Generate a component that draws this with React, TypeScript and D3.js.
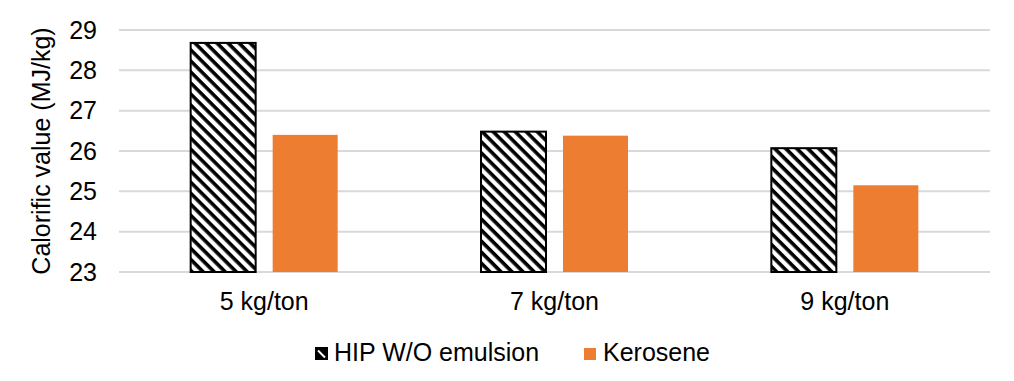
import React from "react";
import * as d3 from "d3";

const categories = ["5 kg/ton", "7 kg/ton", "9 kg/ton"];
const seriesNames = ["HIP W/O emulsion", "Kerosene"];
const hipValues = [28.68, 26.48, 26.07];
const keroseneValues = [26.4, 26.38, 25.15];
const yTicks = [23, 24, 25, 26, 27, 28, 29];

export default function App() {
  const W = 1014, H = 381;
  const left = 119, right = 990, top = 30, bottom = 272;
  const x = d3.scaleBand<string>().domain(categories).range([left, right]).paddingInner(0).paddingOuter(0);
  const y = d3.scaleLinear().domain([23, 29]).range([bottom, top]);
  const barW = 65;
  const gap = 17;
  const font = "'Liberation Sans', Arial, sans-serif";
  const fs = 25;
  const series = [hipValues, keroseneValues];
  return (
    <svg width={W} height={H} style={{ position: "absolute", left: 0, top: 0, background: "#fff" }} fontFamily={font}>
      <defs>
        <pattern id="hatch" patternUnits="userSpaceOnUse" width={10} height={7.8} patternTransform="rotate(45)">
          <rect x={0} y={0} width={10} height={7.8} fill="#fff" />
          <rect x={0} y={0} width={10} height={3.6} fill="#000" />
        </pattern>
      </defs>
      <rect width={W} height={H} fill="#fff" />
      {yTicks.map((t) => (
        <g key={t}>
          <line x1={left} x2={right} y1={y(t)} y2={y(t)} stroke="#d9d9d9" strokeWidth={2} />
          <text x={97} y={y(t)} dy="0.35em" textAnchor="end" fontSize={fs} fill="#000">{t}</text>
        </g>
      ))}
      {categories.map((c, i) => {
        const cx = (x(c) as number) + x.bandwidth() / 2;
        return (
          <g key={c}>
            {series.map((vals, s) => {
              const bx = s === 0 ? cx - gap / 2 - barW : cx + gap / 2;
              const yTop = y(vals[i]);
              return s === 0 ? (
                <rect key={s} x={bx} y={yTop} width={barW} height={y(23) - yTop} fill="url(#hatch)" stroke="#000" strokeWidth={2} />
              ) : (
                <rect key={s} x={bx} y={yTop} width={barW} height={y(23) - yTop} fill="#ED7D31" />
              );
            })}
            <text x={cx} y={310} textAnchor="middle" fontSize={fs} fill="#000">{c}</text>
          </g>
        );
      })}
      <text transform={`translate(50,${(top + bottom) / 2}) rotate(-90)`} textAnchor="middle" fontSize={fs} fill="#000">Calorific value (MJ/kg)</text>
      <g>
        <rect x={315} y={347} width={13} height={13} fill="#000" />
        <line x1={318} y1={350.5} x2={325} y2={357.5} stroke="#fff" strokeWidth={2} />
        <text x={334} y={361} fontSize={fs} fill="#000">{seriesNames[0]}</text>
        <rect x={584} y={348} width={12} height={12} fill="#ED7D31" />
        <text x={603} y={361} fontSize={fs} fill="#000">{seriesNames[1]}</text>
      </g>
    </svg>
  );
}
